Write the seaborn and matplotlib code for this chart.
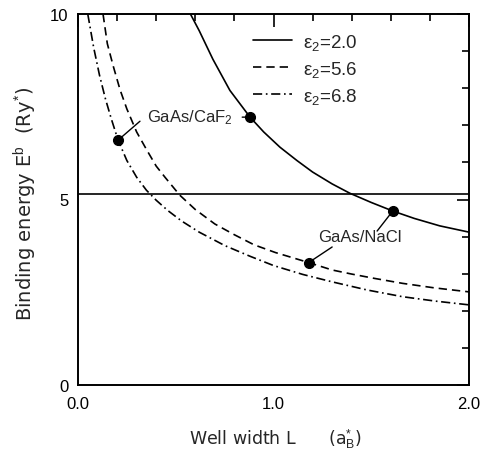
import matplotlib
matplotlib.use("Agg")
import matplotlib.pyplot as plt
import seaborn as sns
from matplotlib.ticker import MultipleLocator

# ---- data ----
L_eps20 = [0.575, 0.62, 0.69, 0.777, 0.88, 0.95, 1.033, 1.12, 1.20, 1.30, 1.39, 1.50, 1.61, 1.72, 1.85, 2.00]
E_eps20 = [10.0, 9.55, 8.78, 7.94, 7.22, 6.82, 6.41, 6.05, 5.74, 5.42, 5.17, 4.92, 4.69, 4.49, 4.29, 4.12]

L_eps56 = [0.128, 0.15, 0.18, 0.215, 0.25, 0.30, 0.35, 0.40, 0.445, 0.52, 0.60, 0.70, 0.80, 0.90,
           1.01, 1.18, 1.30, 1.40, 1.52, 1.66, 1.82, 2.00]
E_eps56 = [10.0, 9.2, 8.6, 7.96, 7.44, 6.82, 6.35, 5.90, 5.60, 5.12, 4.73, 4.34, 4.05, 3.78,
           3.57, 3.30, 3.10, 2.99, 2.87, 2.74, 2.62, 2.51]

L_eps68 = [0.05, 0.08, 0.11, 0.14, 0.17, 0.205, 0.25, 0.30, 0.35, 0.40, 0.46, 0.53, 0.62, 0.75,
           0.88, 1.00, 1.15, 1.30, 1.48, 1.66, 1.83, 2.00]
E_eps68 = [10.0, 9.1, 8.35, 7.72, 7.18, 6.60, 6.05, 5.60, 5.25, 4.98, 4.70, 4.42, 4.12, 3.76,
           3.47, 3.22, 2.98, 2.78, 2.56, 2.38, 2.26, 2.16]

labels = ["ε$_2$=2.0", "ε$_2$=5.6", "ε$_2$=6.8"]

hline_E = 5.15

# marked material points
caf2_pts = [(0.205, 6.60), (0.88, 7.22)]
nacl_pts = [(1.18, 3.30), (1.61, 4.69)]

x_ticks = [0.0, 1.0, 2.0]
x_ticklabels = ["0.0", "1.0", "2.0"]
y_ticks = [0, 5, 10]
y_ticklabels = ["0", "5", "10"]

# ---- style ----
sns.set_style("white")
plt.rcParams["font.family"] = ["Liberation Sans", "DejaVu Sans"]
plt.rcParams["mathtext.fontset"] = "custom"
plt.rcParams["mathtext.rm"] = "Liberation Sans"
plt.rcParams["mathtext.it"] = "Liberation Sans:italic"
plt.rcParams["mathtext.bf"] = "Liberation Sans:bold"

fig = plt.figure(figsize=(4.87, 4.52), dpi=100)
ax = fig.add_axes([78/487, (452-386)/452, (469-78)/487, (386-15)/452])

lw = 1.2
sns.lineplot(x=L_eps20, y=E_eps20, ax=ax, color="black", lw=lw, linestyle="-", label=labels[0])
sns.lineplot(x=L_eps56, y=E_eps56, ax=ax, color="black", lw=lw, linestyle=(0, (5, 3)), label=labels[1])
sns.lineplot(x=L_eps68, y=E_eps68, ax=ax, color="black", lw=lw, linestyle=(0, (5.5, 2.2, 1, 2.2)), label=labels[2])

ax.axhline(hline_E, color="black", lw=1.2)

for (x, y) in caf2_pts + nacl_pts:
    ax.plot([x], [y], "o", color="black", ms=7)

line_kw = dict(arrowstyle="-", lw=1.0, color="black", shrinkA=0, shrinkB=0)
# annotations
ax.text(0.353, 7.22, "GaAs/CaF$_2$", fontsize=12, ha="left", va="center")
ax.annotate("", xy=caf2_pts[0], xytext=(0.317, 7.11), arrowprops=line_kw)
ax.annotate("", xy=caf2_pts[1], xytext=(0.84, 7.22), arrowprops=line_kw)
ax.text(1.44, 3.99, "GaAs/NaCl", fontsize=12, ha="center", va="center")
ax.annotate("", xy=nacl_pts[0], xytext=(1.30, 3.72), arrowprops=line_kw)
ax.annotate("", xy=nacl_pts[1], xytext=(1.53, 4.15), arrowprops=line_kw)

ax.set_xlim(0, 2)
ax.set_ylim(0, 10)
ax.set_xticks(x_ticks)
ax.set_xticklabels(x_ticklabels)
ax.set_yticks(y_ticks)
ax.set_yticklabels(y_ticklabels)
ax.xaxis.set_minor_locator(MultipleLocator(0.2))
ax.yaxis.set_minor_locator(MultipleLocator(1))
ax.tick_params(which="both", direction="in", top=True, right=True, colors="black",
               labelsize=12, width=1.2)
ax.tick_params(which="major", length=9)
ax.tick_params(which="minor", length=5)
ax.tick_params(axis="x", which="major", pad=8)
ax.tick_params(axis="y", which="major", pad=7)
for s in ax.spines.values():
    s.set_visible(True)
    s.set_color("black")
    s.set_linewidth(1.4)

ax.set_xlabel("Well width L      (a$_\\mathrm{B}^{*}$)", fontsize=12.5, family="DejaVu Sans",
              va="center")
ax.xaxis.set_label_coords(0.504, -0.146)
ax.set_ylabel("Binding energy E$^\\mathrm{b}$  (Ry$^{*}$)", fontsize=14, family="DejaVu Sans",
              va="center")
ax.yaxis.set_label_coords(-0.136, 0.49)

leg = ax.legend(loc="upper left", bbox_to_anchor=(0.447, 0.952), frameon=False, fontsize=13.5,
                handlelength=2.1, handletextpad=0.6, labelspacing=0.38, borderpad=0, borderaxespad=0)

fig.savefig("out.png", dpi=100)
